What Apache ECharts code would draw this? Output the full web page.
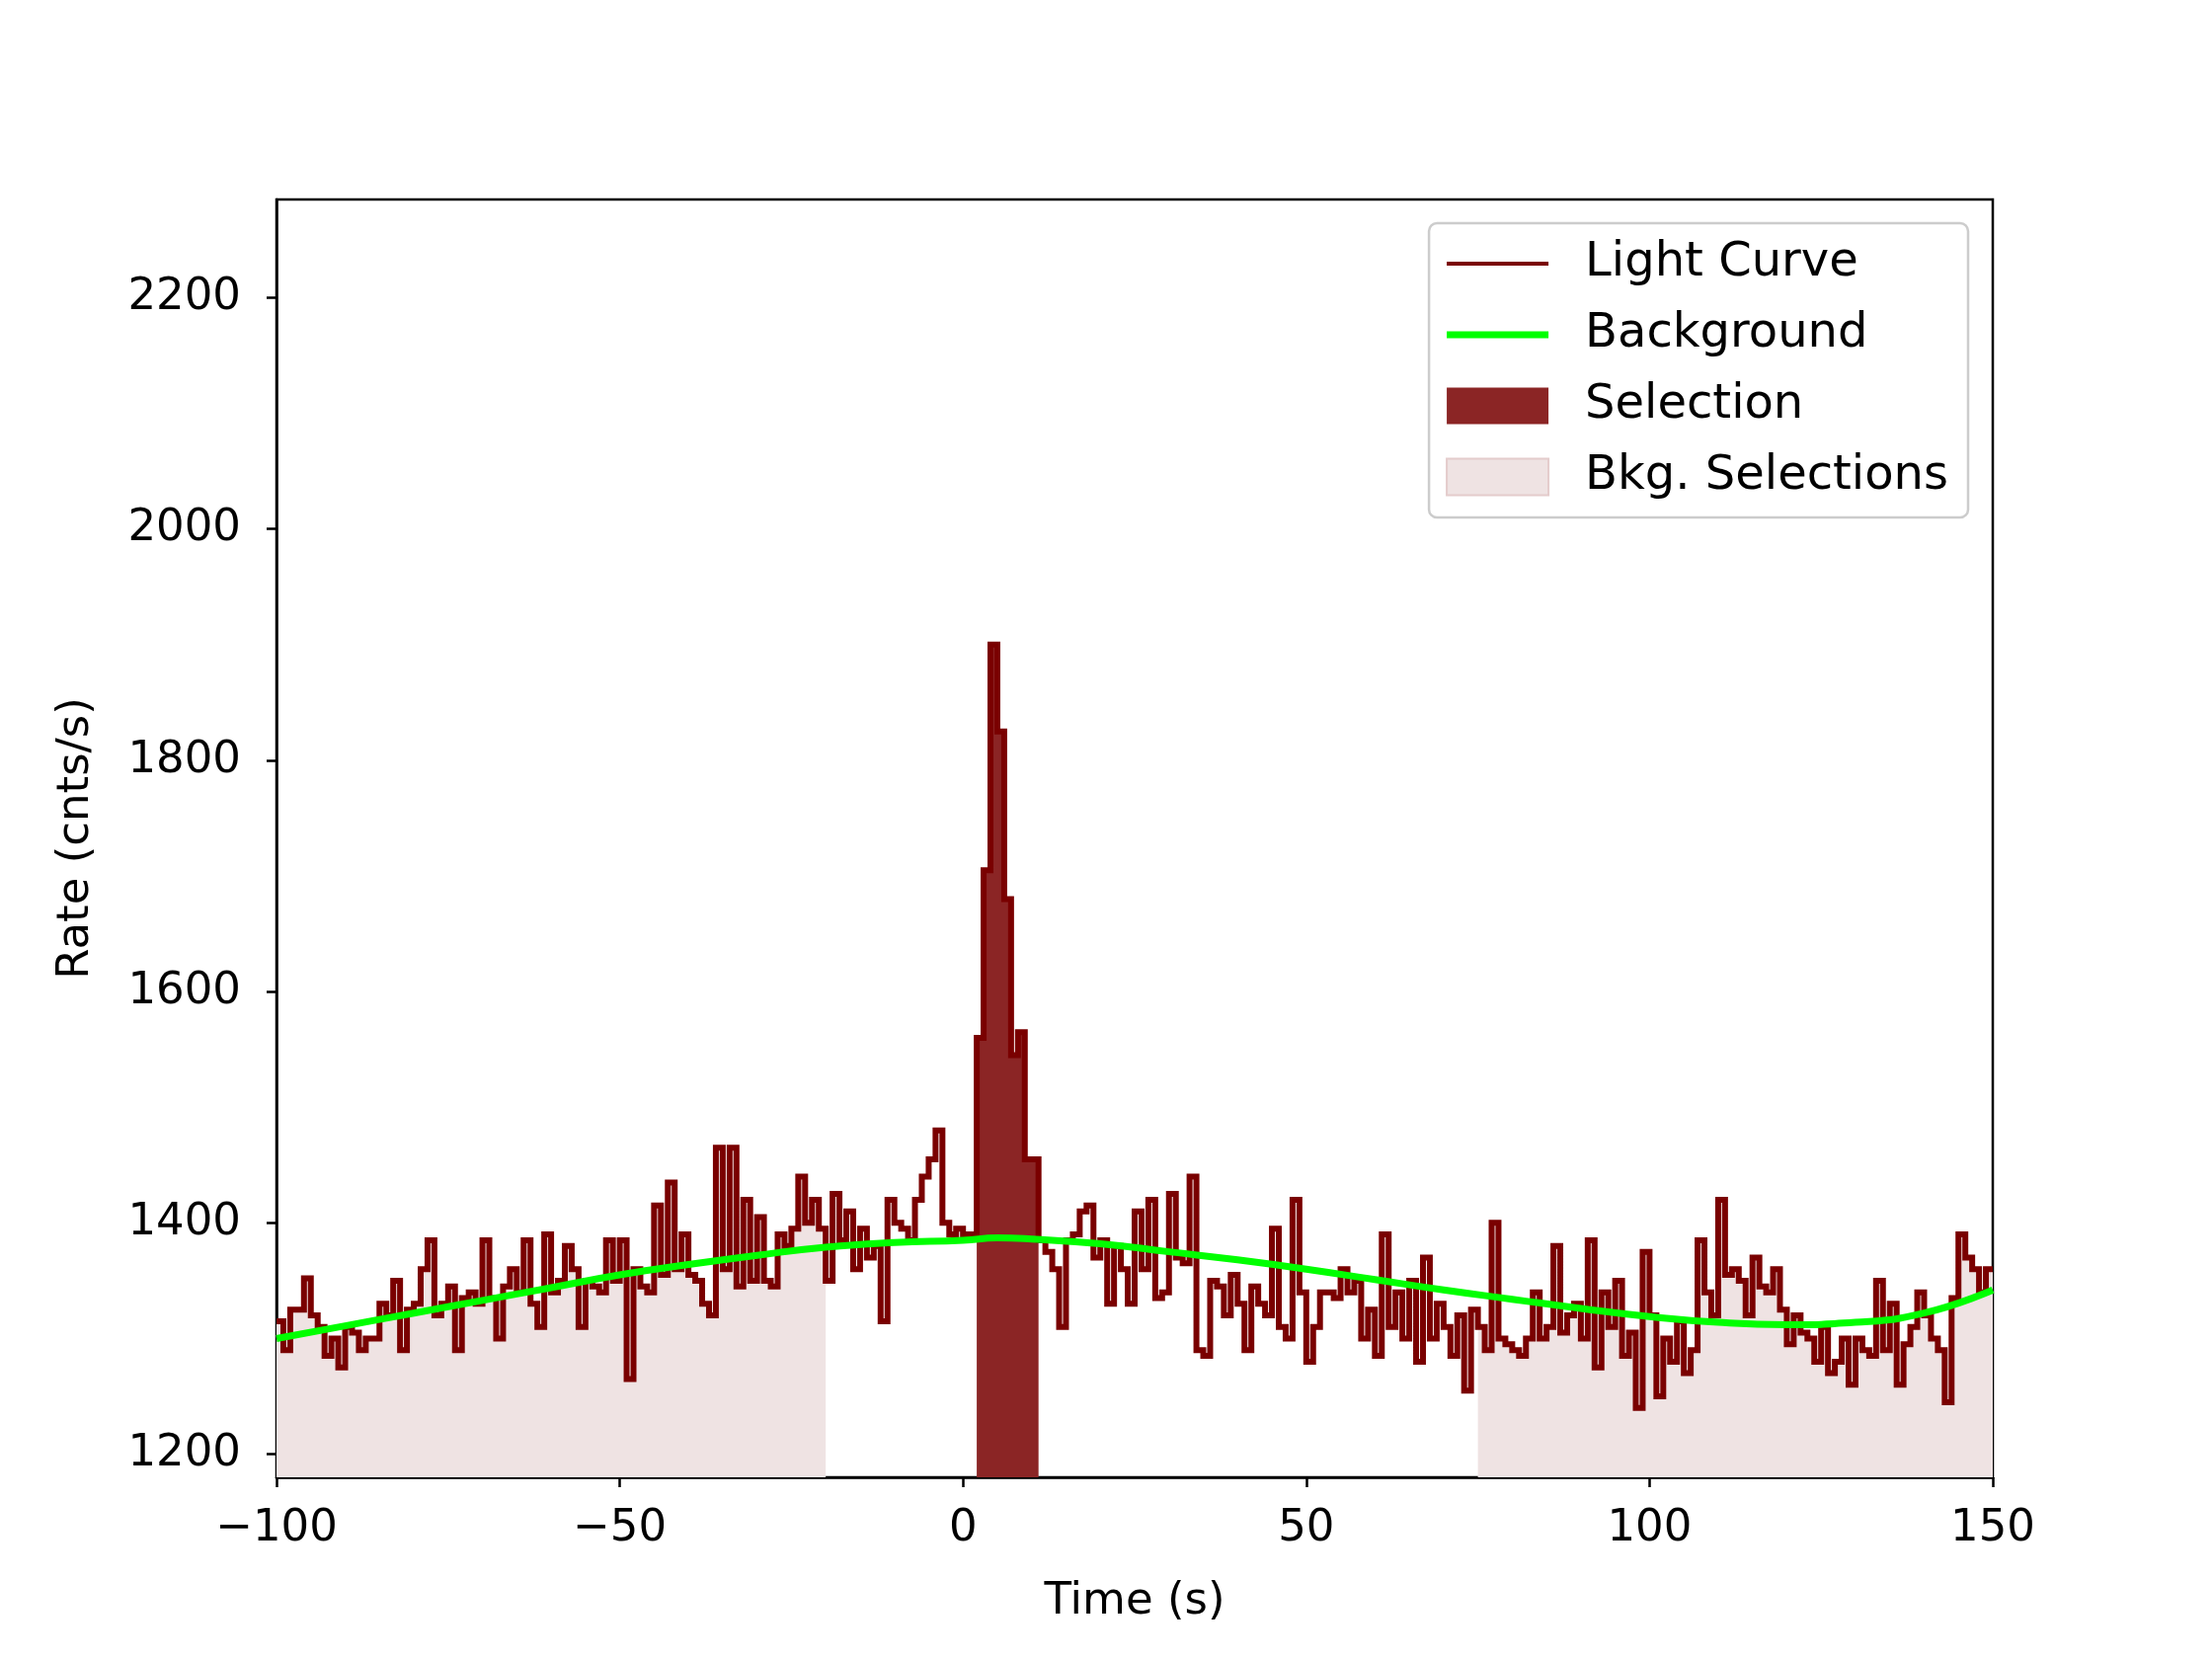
<!DOCTYPE html>
<html><head><meta charset="utf-8">
<script src="https://cdn.jsdelivr.net/npm/echarts@6/dist/echarts.min.js"></script>
<style>html,body{margin:0;padding:0;background:#fff}#c{width:2240px;height:1680px}</style>
</head><body><div id="c"></div>
<script>
const binStart = -100; // first bin start, 1 s bins
const rates = [
1315,1290,1325,1325,1352,1320,1310,1285,1300,1275,
1310,1305,1290,1300,1300,1330,1320,1350,1290,1325,
1330,1360,1385,1320,1330,1345,1290,1335,1340,1330,
1385,1335,1300,1345,1360,1340,1385,1330,1310,1390,
1340,1350,1380,1360,1310,1350,1345,1340,1385,1350,
1385,1265,1360,1345,1340,1415,1355,1435,1360,1390,
1355,1350,1330,1320,1465,1360,1465,1345,1420,1350,
1405,1350,1345,1390,1380,1395,1440,1400,1420,1395,
1350,1425,1385,1410,1360,1395,1370,1380,1315,1420,
1400,1395,1385,1420,1440,1455,1480,1400,1390,1395,
1390,1390,1560,1705,1900,1825,1680,1545,1565,1455,
1455,1385,1375,1360,1310,1385,1390,1410,1415,1370,
1385,1330,1380,1360,1330,1410,1360,1420,1335,1340,
1425,1370,1365,1440,1290,1285,1350,1345,1320,1355,
1330,1290,1345,1330,1320,1395,1310,1300,1420,1340,
1280,1310,1340,1340,1335,1360,1340,1350,1300,1325,
1285,1390,1310,1340,1300,1350,1280,1370,1300,1330,
1310,1285,1320,1255,1325,1310,1290,1400,1300,1295,
1290,1285,1300,1340,1300,1310,1380,1305,1320,1330,
1300,1385,1275,1340,1310,1350,1285,1305,1240,1375,
1320,1250,1300,1280,1315,1270,1290,1385,1340,1320,
1420,1355,1360,1350,1320,1370,1345,1340,1360,1325,
1295,1320,1305,1300,1280,1310,1270,1280,1300,1260,
1300,1290,1285,1350,1290,1330,1260,1295,1310,1340,
1320,1300,1290,1245,1335,1390,1370,1360,1340,1360
];
const bkgTimes = [-100,-90,-80,-70,-60,-50,-40,-30,-20,-10,0,5,10,20,30,40,50,60,70,80,90,100,110,120,130,140,150];
const bkgRates = [1300,1311,1322,1333,1344,1355,1364,1372,1379,1383,1385,1387,1386,1382,1375,1368,1360,1351,1342,1334,1326,1319,1314,1312,1314,1322,1342];
const selRange = [2, 11];
const bkgRanges = [[-100, -20], [75, 150]];
const xTicks = [-100, -50, 0, 50, 100, 150];
const yTicks = [1200, 1400, 1600, 1800, 2000, 2200];

const lc = rates.map((v, i) => [binStart + i, v]);
lc.push([binStart + rates.length, rates[rates.length - 1]]);
function sub(a, b) {
  const out = lc.filter(p => p[0] >= a && p[0] < b);
  const last = lc.find(p => p[0] === b - 1) || out[out.length - 1];
  out.push([b, last[1]]);
  return out;
}
const F = 'DejaVu Sans';
const FS = 45;
const chart = echarts.init(document.getElementById('c'));
const bkgSeries = bkgRanges.map(r => ({
  name: 'Bkg. Selections', type: 'line', step: 'end', symbol: 'none', z: 1,
  data: sub(r[0], r[1]), lineStyle: { width: 0, color: '#efe2e2' },
  itemStyle: { color: '#efe3e3' },
  areaStyle: { color: '#efe3e3', opacity: 1 }, silent: true
}));
chart.setOption({
  animation: false,
  grid: { left: 280, right: 222, top: 202, bottom: 184, outerBoundsMode: 'none',
    show: true, borderColor: '#000', borderWidth: 2.5, backgroundColor: 'transparent' },
  xAxis: {
    type: 'value', min: -100, max: 150,
    name: 'Time (s)', nameLocation: 'middle', nameGap: 104,
    nameTextStyle: { fontFamily: F, fontSize: FS, color: '#000' },
    axisLine: { onZero: false, lineStyle: { color: '#000', width: 2.5 } },
    axisTick: { customValues: xTicks, length: 10, lineStyle: { color: '#000', width: 2.5 } },
    axisLabel: { customValues: xTicks, fontFamily: F, fontSize: FS, color: '#000', margin: 30,
      formatter: v => String(v).replace('-', '\u2212') },
    splitLine: { show: false }
  },
  yAxis: {
    type: 'value', min: 1180, max: 2285,
    name: 'Rate (cnts/s)', nameLocation: 'middle', nameGap: 180,
    nameTextStyle: { fontFamily: F, fontSize: FS, color: '#000' },
    axisLine: { show: true, onZero: false, lineStyle: { color: '#000', width: 2.5 } },
    axisTick: { show: true, customValues: yTicks, length: 10, lineStyle: { color: '#000', width: 2.5 } },
    axisLabel: { customValues: yTicks, fontFamily: F, fontSize: FS, color: '#000', margin: 36,
      formatter: v => String(v) },
    splitLine: { show: false }
  },
  legend: {
    right: 247, top: 226, orient: 'vertical', itemGap: 24,
    itemWidth: 103, itemHeight: 37,
    padding: [17, 20, 17, 17],
    borderColor: '#ccc', borderWidth: 2.5, borderRadius: 8, backgroundColor: 'rgba(255,255,255,0.8)',
    textStyle: { fontFamily: F, fontSize: 48, color: '#000', padding: [0, 0, 0, 32] },
    data: [
      { name: 'Light Curve', icon: 'path://M0,16.5 L103,16.5 L103,20.5 L0,20.5 Z', itemStyle: { color: '#7a0000' } },
      { name: 'Background', icon: 'path://M0,15 L103,15 L103,22 L0,22 Z', itemStyle: { color: '#00ff00' } },
      { name: 'Selection', icon: 'rect', itemStyle: { color: '#8b2525' } },
      { name: 'Bkg. Selections', icon: 'rect', itemStyle: { color: '#efe3e3', borderColor: '#e4cccc', borderWidth: 2 } }
    ]
  },
  series: bkgSeries.concat([
    { name: 'Selection', type: 'line', step: 'end', symbol: 'none', z: 2,
      data: sub(selRange[0], selRange[1]), lineStyle: { width: 0, color: '#8b2525' },
      itemStyle: { color: '#8b2525' }, areaStyle: { color: '#8b2525', opacity: 1 } },
    { name: 'Light Curve', type: 'line', step: 'end', symbol: 'none', z: 3,
      data: lc, lineStyle: { width: 6, color: '#7a0000', join: 'miter' }, itemStyle: { color: '#7a0000' } },
    { name: 'Background', type: 'line', smooth: true, symbol: 'none', z: 4,
      data: bkgTimes.map((t, i) => [t, bkgRates[i]]), lineStyle: { width: 7, color: '#00ff00' }, itemStyle: { color: '#00ff00' } }
  ])
});
</script></body></html>
